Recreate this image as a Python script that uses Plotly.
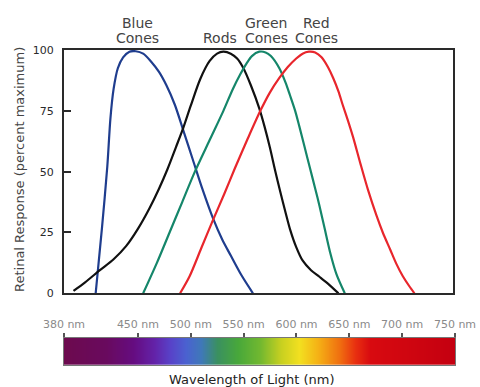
import plotly.graph_objects as go

# ---------------- data ----------------
blue_nm = [410, 416, 421, 424, 427, 431, 436, 442, 448, 455, 462, 470, 477, 485, 493, 502, 511, 521, 530, 538, 548, 559]
blue_y = [0, 27, 52, 72, 84, 92.5, 97, 99.3, 99.5, 98.5, 95.5, 91, 85.5, 77.5, 67, 55, 43, 31, 22, 15.5, 7.5, 0]

rods_nm = [389, 400, 414, 427, 439, 450, 461, 470, 478, 486, 493, 500, 509, 518, 525, 531, 538, 544, 550, 557, 565,
           570, 575, 580, 585, 590, 594, 600, 606, 614, 622, 630, 640]
rods_y = [1, 4.5, 9.5, 14, 19.5, 26.5, 35, 43, 51, 60, 68, 77, 88, 95.5, 98.5, 99.3, 98.5, 96.5, 92.5, 85.5, 76,
          68.5, 60, 50.5, 41.5, 33, 26.5, 19, 13.5, 9.5, 6.8, 4, 0]

green_nm = [455, 468, 480, 492, 504, 518, 531, 540, 547, 553, 558, 565, 571, 576, 584, 590, 594, 599, 603, 608, 613,
            618, 622, 627, 632, 638, 646]
green_y = [0, 12.5, 25, 37.5, 50, 63, 75, 84, 90, 94.5, 97.5, 99.3, 99, 97.5, 92.5, 86.5, 81.5, 75, 68.5, 60, 51.5,
           43, 36, 26.5, 17, 8, 0]

red_nm = [490, 499, 510, 521, 532, 542, 554, 566, 575, 584, 592, 600, 606, 612, 618, 624, 630, 635, 640, 644, 649,
          654, 661, 668, 676, 682, 689, 695, 701, 707, 712]
red_y = [0, 7, 18.5, 30, 41, 51.5, 63.5, 75, 82.5, 88.5, 93, 96.5, 98.5, 99.3, 99, 97, 93, 88.5, 83, 77.5, 71,
         64, 53, 42.5, 32, 25, 18, 12, 7, 3, 0]

y_ticks = [0, 25, 50, 75, 100]
nm_ticks = [380, 450, 500, 550, 600, 650, 700, 750]
nm_labels = ["380 nm", "450 nm", "500 nm", "550 nm", "600 nm", "650 nm", "700 nm", "750 nm"]

# spectrum colour stops for the wavelength bar
spectrum_nm = [380, 420, 445, 465, 480, 495, 510, 525, 545, 565, 585, 602, 620, 640, 655, 670, 750]
spectrum_colors = ["#6c0a4e", "#690a5e", "#650c80", "#6322a8", "#5842c8", "#4a62d0", "#3f78b8", "#3a9060",
                   "#48a83a", "#72b830", "#c8d020", "#f2e020", "#f5b015", "#f07010", "#e83010", "#d80a10", "#c40010"]

# ---------------- figure ----------------
W, H = 480, 387
FONT = "DejaVu Sans"

def px_x(p):
    return p / W

def px_y(p):
    return 1 - p / H

fig = go.Figure()

series = [
    (blue_nm, blue_y, "#1f3d8e"),
    (rods_nm, rods_y, "#111111"),
    (green_nm, green_y, "#15866a"),
    (red_nm, red_y, "#e8262c"),
]
for xs, ys, col in series:
    fig.add_trace(go.Scatter(x=xs, y=ys, mode="lines",
                             line=dict(color=col, width=2.2, shape="spline", smoothing=0.8),
                             xaxis="x", yaxis="y", showlegend=False, hoverinfo="skip"))

lo, hi = spectrum_nm[0], spectrum_nm[-1]
colorscale = [[(n - lo) / (hi - lo), c] for n, c in zip(spectrum_nm, spectrum_colors)]
fig.add_trace(go.Heatmap(x=spectrum_nm, y=[0.5], z=[spectrum_nm], colorscale=colorscale, zsmooth="best",
                         showscale=False, xaxis="x2", yaxis="y2", hoverinfo="skip"))

frame = "#2a2a2a"
fig.update_layout(
    width=W, height=H, autosize=False,
    margin=dict(l=0, r=0, t=0, b=0, pad=0),
    paper_bgcolor="white", plot_bgcolor="white",
    font=dict(family=FONT, color="#333333"),
    xaxis=dict(domain=[px_x(64), px_x(453.3)], range=[380, 748.8], showticklabels=False, ticks="",
               showgrid=False, zeroline=False, showline=True, linecolor=frame, linewidth=2, mirror=True,
               anchor="y", automargin=False),
    yaxis=dict(domain=[px_y(293.3), px_y(50)], range=[0, 100], tickvals=y_ticks, ticks="inside", ticklen=7,
               tickwidth=2, tickcolor=frame, showgrid=False, zeroline=False, showline=True, linecolor=frame,
               linewidth=2, mirror=True, tickfont=dict(size=11, color="#2a2a2a", family=FONT),
               ticklabelstandoff=6, anchor="x", automargin=False),
    xaxis2=dict(domain=[px_x(64), px_x(455)], range=[380, 750], side="top", tickvals=nm_ticks,
                ticktext=nm_labels, ticks="outside", ticklen=4, tickwidth=1.5, tickcolor="#555555",
                tickfont=dict(size=11, color="#8a8a8a", family=FONT), showgrid=False, zeroline=False,
                showline=True, linecolor="#777777", linewidth=1, mirror=True, anchor="y2", automargin=False),
    yaxis2=dict(domain=[px_y(365), px_y(337.7)], range=[0, 1], showticklabels=False, ticks="",
                showgrid=False, zeroline=False, showline=True, linecolor="#777777", linewidth=1, mirror=True,
                anchor="x2", automargin=False),
)

ann = []
top_font = dict(family=FONT, size=14, color="#444444")
for txt, x, y in [("Blue", 137, 23), ("Green", 266, 23), ("Red", 316, 23),
                  ("Cones", 137, 38), ("Rods", 219.5, 38), ("Cones", 266, 38), ("Cones", 316, 38)]:
    ann.append(dict(text=txt, x=px_x(x), y=px_y(y), xref="paper", yref="paper", showarrow=False,
                    xanchor="center", yanchor="middle", font=top_font))
ann.append(dict(text="Retinal Response (percent maximum)", x=px_x(19), y=px_y(170), xref="paper", yref="paper",
                showarrow=False, textangle=-90, xanchor="center", yanchor="middle",
                font=dict(family=FONT, size=13, color="#444444")))
ann.append(dict(text="Wavelength of Light (nm)", x=px_x(252.5), y=px_y(379), xref="paper", yref="paper",
                showarrow=False, xanchor="center", yanchor="middle",
                font=dict(family=FONT, size=13, color="#222222")))
fig.update_layout(annotations=ann)

fig.write_html("out.html", config={"displayModeBar": False},
               post_script="document.body.style.margin='0';document.body.style.overflow='hidden';")
